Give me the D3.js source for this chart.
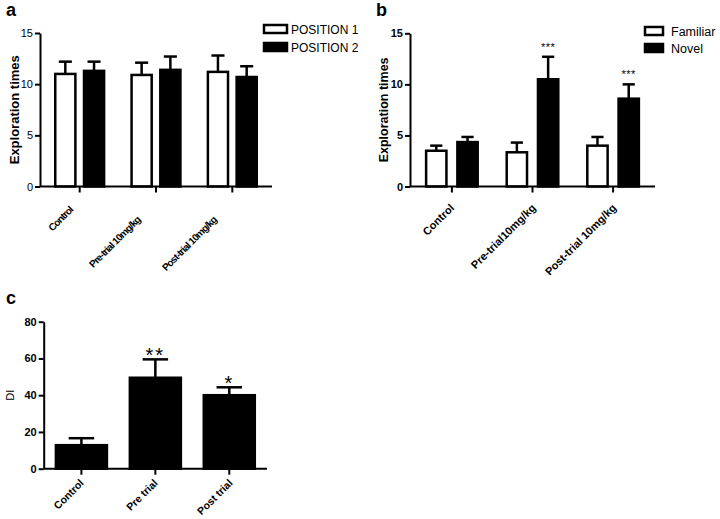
<!DOCTYPE html>
<html><head><meta charset="utf-8">
<script src="https://cdn.jsdelivr.net/npm/d3@7"></script>
<style>
html,body{margin:0;padding:0;background:#fff;}
svg text{font-family:"Liberation Sans",Arial,sans-serif;fill:#000;}
</style></head>
<body><svg id="chart" width="720" height="519"></svg>
<script>
// ---------- DATA ----------
const catsA = ["Control", "Pre-trial 10mg/kg", "Post-trial 10mg/kg"];
const seriesA = ["POSITION 1", "POSITION 2"];
const meanA1 = [11.0, 10.9, 11.2];
const semA1  = [1.2, 1.2, 1.6];
const meanA2 = [11.3, 11.4, 10.7];
const semA2  = [0.9, 1.3, 1.05];
const ticksA = [0, 5, 10, 15];

const catsB = ["Control", "Pre-trial10mg/kg", "Post-trial 10mg/kg"];
const seriesB = ["Familiar", "Novel"];
const meanB1 = [3.5, 3.35, 4.0];
const semB1  = [0.5, 0.95, 0.85];
const meanB2 = [4.35, 10.5, 8.6];
const semB2  = [0.5, 2.2, 1.4];
const starsB2 = ["", "***", "***"];
const ticksB = [0, 5, 10, 15];

const catsC = ["Control", "Pre trial", "Post trial"];
const meanC = [12.8, 49.5, 40.0];
const semC  = [3.8, 10.0, 4.3];
const starsC = ["", "**", "*"];
const ticksC = [0, 20, 40, 60, 80];

// ---------- DRAW ----------
const svg = d3.select("#chart");

function panel(opt) {
  const g = svg.append("g");
  const y = d3.scaleLinear().domain(opt.yDomain).range([opt.y0, opt.y1]);
  const x0 = d3.scaleBand().domain(opt.cats).range([opt.x0, opt.x1])
    .paddingInner(opt.padIn).paddingOuter(opt.padOut);
  const x1 = d3.scaleBand().domain(opt.series.map((s, i) => i))
    .range([0, x0.bandwidth()]).paddingInner(opt.innerPad);

  opt.series.forEach((s, si) => {
    const means = opt.means[si], sems = opt.sems[si];
    const data = opt.cats.map((c, ci) => ({c, m: means[ci], e: sems[ci], ci}));
    const bx = d => x0(d.c) + x1(si);
    const bw = x1.bandwidth();
    g.selectAll(null).data(data).enter().append("line")
      .attr("x1", d => bx(d) + bw / 2).attr("x2", d => bx(d) + bw / 2)
      .attr("y1", d => y(d.m)).attr("y2", d => y(d.m + d.e))
      .attr("stroke", "#000").attr("stroke-width", 2.5);
    g.selectAll(null).data(data).enter().append("line")
      .attr("x1", d => bx(d) + bw / 2 - bw * opt.cap / 2)
      .attr("x2", d => bx(d) + bw / 2 + bw * opt.cap / 2)
      .attr("y1", d => y(d.m + d.e)).attr("y2", d => y(d.m + d.e))
      .attr("stroke", "#000").attr("stroke-width", 2.5);
    g.selectAll(null).data(data).enter().append("rect")
      .attr("x", bx).attr("width", bw)
      .attr("y", d => y(d.m)).attr("height", d => y(0) - y(d.m))
      .attr("fill", opt.fills[si]).attr("stroke", "#000").attr("stroke-width", 2.5);
    if (opt.stars && opt.stars[si]) {
      g.selectAll(null).data(data).enter().append("text")
        .attr("x", d => bx(d) + bw / 2)
        .attr("y", d => y(d.m + d.e) - opt.starGap)
        .attr("text-anchor", "middle")
        .style("font-size", opt.starSize + "px")
        .style("letter-spacing", opt.starSpacing + "px")
        .text(d => opt.stars[si][d.ci]);
    }
  });

  const ya = g.append("g").attr("transform", `translate(${opt.x0},0)`)
    .call(d3.axisLeft(y).tickValues(opt.ticks).tickSize(5).tickSizeOuter(0).tickPadding(2));
  ya.select(".domain").attr("stroke-width", 2);
  ya.selectAll(".tick line").attr("stroke-width", 2);
  ya.selectAll("text").style("font-size", "11px").style("font-weight", opt.tickWeight)
    .style("font-family", '"Liberation Sans",Arial,sans-serif');

  const xa = g.append("g").attr("transform", `translate(0,${opt.y0})`)
    .call(d3.axisBottom(x0).tickSize(6).tickSizeOuter(0));
  xa.select(".domain").attr("d", `M${opt.x0},0H${opt.x1}`).attr("stroke-width", 2);
  xa.selectAll(".tick line").attr("stroke-width", 2);
  xa.selectAll("text")
    .attr("y", null).attr("dy", null).attr("x", null)
    .attr("text-anchor", "end")
    .attr("transform", (d, i) => `translate(${opt.lab[i][0]},${opt.lab[i][1]}) rotate(-45)`)
    .style("font-size", opt.labSize + "px").style("font-weight", "bold")
    .style("letter-spacing", opt.labSpacing + "px")
    .style("font-family", '"Liberation Sans",Arial,sans-serif');

  g.append("text")
    .attr("transform", `translate(${opt.titleX},${(opt.y0 + opt.y1) / 2}) rotate(-90)`)
    .attr("text-anchor", "middle")
    .style("font-size", opt.titleSize + "px").style("font-weight", opt.titleWeight)
    .text(opt.title);

  g.append("text").attr("x", opt.letter[1]).attr("y", opt.letter[2])
    .style("font-size", "18px").style("font-weight", "bold").text(opt.letter[0]);

  if (opt.legend) {
    opt.series.forEach((s, si) => {
      g.append("rect").attr("x", opt.legend[0]).attr("y", opt.legend[1] + si * opt.legend[2])
        .attr("width", opt.legend[3]).attr("height", 8)
        .attr("fill", opt.fills[si]).attr("stroke", "#000").attr("stroke-width", 2.5);
      g.append("text").attr("x", opt.legend[0] + opt.legend[3] + opt.legend[4])
        .attr("y", opt.legend[1] + si * opt.legend[2] + 9)
        .style("font-size", opt.legendSize + "px").text(s);
    });
  }
}

panel({
  cats: catsA, series: seriesA, means: [meanA1, meanA2], sems: [semA1, semA2],
  fills: ["#fff", "#000"], yDomain: [0, 15], ticks: ticksA,
  x0: 40, x1: 272, y0: 186.5, y1: 33, padIn: 0.36, padOut: 0.2, innerPad: 0.3, cap: 0.65,
  tickWeight: "normal", title: "Exploration times", titleX: 19, titleSize: 13, titleWeight: "bold",
  letter: ["a", 6, 16],
  lab: [[-6, 24], [-15, 34], [-15, 34]], labSize: 10, labSpacing: -0.8,
  legend: [264, 25, 18, 23, 4], legendSize: 12
});

panel({
  cats: catsB, series: seriesB, means: [meanB1, meanB2], sems: [semB1, semB2],
  fills: ["#fff", "#000"], yDomain: [0, 15], ticks: ticksB,
  x0: 410, x1: 655, y0: 186.5, y1: 33.3, padIn: 0.36, padOut: 0.2, innerPad: 0.35, cap: 0.6,
  tickWeight: "bold", title: "Exploration times", titleX: 388, titleSize: 12.5, titleWeight: "bold",
  letter: ["b", 376, 16],
  stars: [null, starsB2], starGap: 6, starSize: 11, starSpacing: 0.5,
  lab: [[3, 22], [4, 22], [4, 22]], labSize: 11, labSpacing: 0,
  legend: [645, 27, 17, 18, 8], legendSize: 12.5
});

panel({
  cats: catsC, series: ["DI"], means: [meanC], sems: [semC],
  fills: ["#000"], yDomain: [0, 80], ticks: ticksC,
  x0: 43.7, x1: 267, y0: 468.7, y1: 321.7, padIn: 0.31, padOut: 0.165, innerPad: 0, cap: 0.5,
  tickWeight: "bold", title: "DI", titleX: 14, titleSize: 11, titleWeight: "normal",
  letter: ["c", 6, 304],
  stars: [starsC], starGap: -3, starSize: 20, starSpacing: 2,
  lab: [[3, 15], [3, 15], [4, 15]], labSize: 10.5, labSpacing: 0
});
</script></body></html>
